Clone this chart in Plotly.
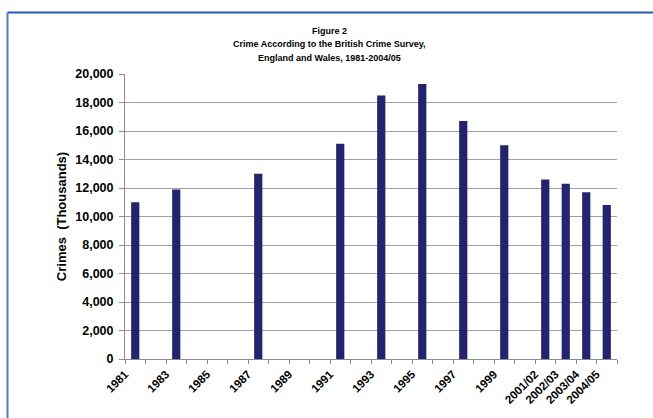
import plotly.graph_objects as go

categories = [str(y) for y in range(1981, 2001)] + ["2001/02", "2002/03", "2003/04", "2004/05"]
crimes = {
    "1981": 11000, "1983": 11900, "1987": 13000, "1991": 15100,
    "1993": 18500, "1995": 19300, "1997": 16700, "1999": 15000,
    "2001/02": 12600, "2002/03": 12300, "2003/04": 11700, "2004/05": 10800,
}
tick_labels = ["1981", "1983", "1985", "1987", "1989", "1991", "1993", "1995",
               "1997", "1999", "2001/02", "2002/03", "2003/04", "2004/05"]
title_lines = ["Figure 2", "Crime According to the British Crime Survey,",
               "England and Wales, 1981-2004/05"]

FONT = "Liberation Sans, Arial, sans-serif"
label_shift = 0.5

xs = [categories.index(k) for k in crimes]
ys = list(crimes.values())

fig = go.Figure()
fig.add_trace(go.Bar(x=xs, y=ys, width=0.4, marker=dict(color="#232370", line=dict(width=0))))

L, R, T, B = 125, 36, 74, 59
W, H = 653, 418
pw, ph = W - L - R, H - T - B

def px2x(p):
    return (p - L) / pw

def py2y(p):
    return (H - B - p) / ph

annotations = []
for i, line in enumerate(title_lines):
    annotations.append(dict(
        text="<b>%s</b>" % line, xref="paper", yref="paper",
        x=px2x(329), y=py2y(31 + 13.5 * i), xanchor="center", yanchor="middle",
        showarrow=False, font=dict(family=FONT, size=9, color="black"),
    ))

fig.update_layout(
    width=W, height=H,
    margin=dict(l=L, r=R, t=T, b=B),
    paper_bgcolor="white", plot_bgcolor="white",
    showlegend=False,
    font=dict(family=FONT, color="black"),
    annotations=annotations,
    xaxis=dict(
        range=[-0.5, len(categories) - 0.5],
        tickmode="array",
        tickvals=[categories.index(t) - label_shift for t in tick_labels],
        ticktext=tick_labels,
        tickangle=-45,
        ticks="", showgrid=False, zeroline=False,
        showline=True, linecolor="#8c8c8c", linewidth=1,
        ticklabelstandoff=3,
        tickfont=dict(family=FONT, size=11.5, color="black", weight="bold"),
        minor=dict(tickmode="array", tickvals=[k - 0.5 for k in range(len(categories) + 1)],
                   ticks="outside", ticklen=4, tickcolor="#8c8c8c", showgrid=False),
    ),
    yaxis=dict(
        range=[0, 20000], dtick=2000, tickformat=",",
        showgrid=True, gridcolor="#a0a0a0", gridwidth=1, zeroline=False,
        showline=True, linecolor="#8c8c8c", linewidth=1,
        ticks="outside", ticklen=5, tickcolor="#8c8c8c",
        ticklabelstandoff=3,
        tickfont=dict(family=FONT, size=12.5, color="black", weight="bold"),
        title=dict(text="Crimes  (Thousands)", standoff=5,
                   font=dict(family=FONT, size=13, color="black", weight="bold")),
    ),
    shapes=[
        dict(type="line", xref="paper", yref="paper", x0=px2x(7.5), x1=px2x(660),
             y0=py2y(12.5), y1=py2y(12.5), line=dict(color="#1f5fb4", width=2)),
        dict(type="line", xref="paper", yref="paper", x0=px2x(7.5), x1=px2x(7.5),
             y0=py2y(12.5), y1=py2y(425), line=dict(color="#4a80c6", width=2)),
    ],
)

fig.write_html("out.html")
